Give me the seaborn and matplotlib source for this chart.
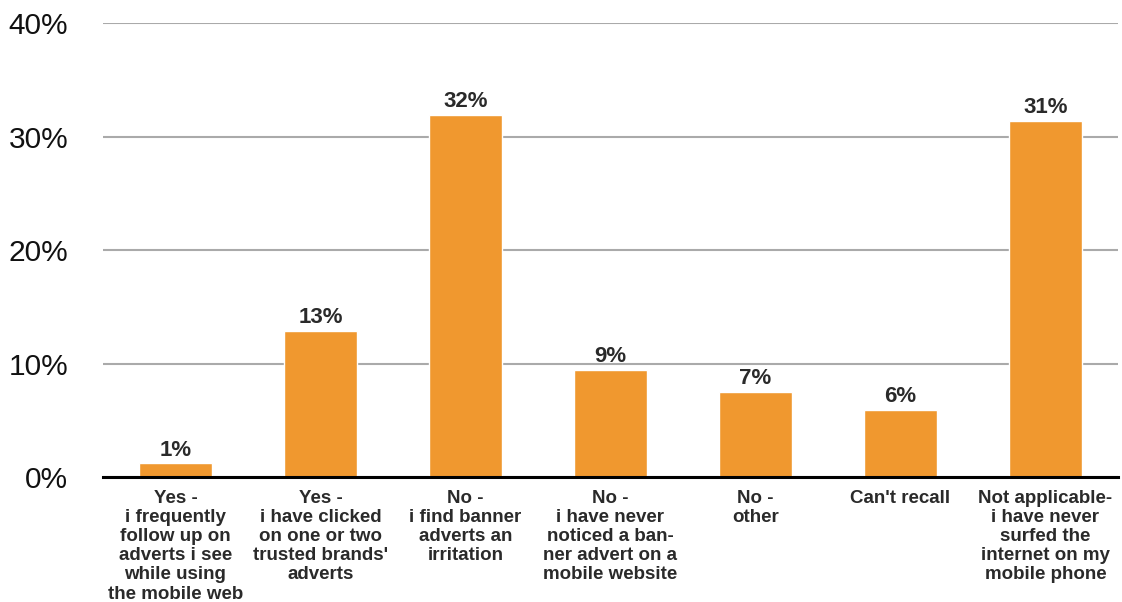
import numpy as np
import pandas as pd
import matplotlib.pyplot as plt
import seaborn as sns

# data
categories = [
    "Yes -\ni frequently\nfollow up on\nadverts i see\nwhile using\nthe mobile web",
    "Yes -\ni have clicked\non one or two\ntrusted brands'\nadverts",
    "No -\ni find banner\nadverts an\nirritation",
    "No -\ni have never\nnoticed a ban-\nner advert on a\nmobile website",
    "No -\nother",
    "Can't recall",
    "Not applicable-\ni have never\nsurfed the\ninternet on my\nmobile phone",
]
values = [1.2, 12.9, 31.9, 9.4, 7.5, 5.9, 31.4]
value_labels = ["1%", "13%", "32%", "9%", "7%", "6%", "31%"]
y_ticks = [0, 10, 20, 30, 40]

df = pd.DataFrame({"Category": categories, "Value": values})

sns.set_style("white")
plt.rcParams['font.family'] = ['Liberation Sans', 'DejaVu Sans']

fig = plt.figure(figsize=(11.22, 6.02), dpi=100, facecolor='white')
ax = fig.add_axes([0.0918, 0.2076, 0.9046, 0.7542])

sns.barplot(data=df, x="Category", y="Value", color="#F0982F",
            saturation=1, width=0.5, ax=ax, zorder=3)

ax.set_ylim(0, 40)
ax.set_xlim(-0.5, len(categories) - 0.5)
ax.set_yticks(y_ticks)
ax.set_yticklabels([f"{t}%" for t in y_ticks])
ax.yaxis.grid(True, color='#AAAAAA', linewidth=1.5, zorder=0)
ax.set_axisbelow(True)
for s in ['top', 'right', 'left']:
    ax.spines[s].set_visible(False)
ax.spines['bottom'].set_color('black')
ax.spines['bottom'].set_linewidth(2.2)
ax.spines['bottom'].set_zorder(4)

ax.tick_params(axis='y', length=0, pad=25, labelsize=21.5, labelcolor='#111111')
ax.tick_params(axis='x', length=0, pad=9)
ax.set_xticks(range(len(categories)))
ax.set_xticklabels(categories, fontsize=13.5, fontweight='bold', color='#2a2a2a',
                   linespacing=1.17, va='top', ha='center')
ax.set_xlabel("")
ax.set_ylabel("")

for i, (v, lab) in enumerate(zip(values, value_labels)):
    ax.text(i, v + 0.25, lab, ha='center', va='bottom', fontsize=16,
            fontweight='bold', color='#2a2a2a')

plt.savefig("out.png", dpi=100, facecolor='white')
